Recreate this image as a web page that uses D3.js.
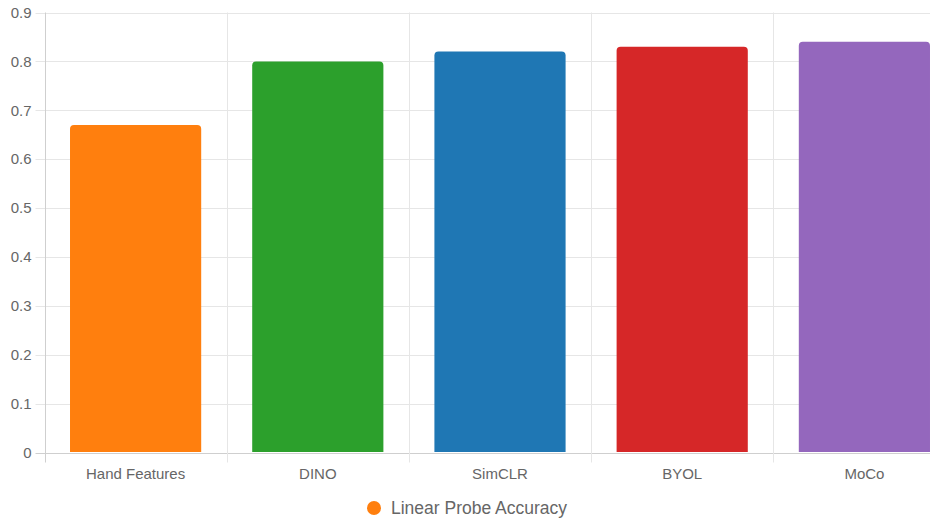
<!DOCTYPE html>
<html><head><meta charset="utf-8">
<script src="https://cdn.jsdelivr.net/npm/d3@7"></script>
<style>html,body{margin:0;padding:0;background:#fff;overflow:hidden}</style>
</head><body>
<svg id="c" width="930" height="526"></svg>
<script>
const categories = ["Hand Features", "DINO", "SimCLR", "BYOL", "MoCo"];
const values = [0.67, 0.80, 0.82, 0.83, 0.84];
const colors = ["#ff7f0e", "#2ca02c", "#1f77b4", "#d62728", "#9467bd"];
const yTicks = [0, 0.1, 0.2, 0.3, 0.4, 0.5, 0.6, 0.7, 0.8, 0.9];
const seriesName = "Linear Probe Accuracy";

(function () {
const svg = d3.select("#c");
const pLeft = 44.5, pRight = 955.5, pTop = 12.5, pBottom = 452.5;
const font = "'Liberation Sans', Arial, Helvetica, sans-serif";

const x = d3.scaleBand().domain(categories).range([pLeft, pRight]).paddingInner(0).paddingOuter(0);
const y = d3.scaleLinear().domain([0, 0.9]).range([pBottom, pTop]);

const g = svg.append("g");
g.selectAll("line.h").data(yTicks).join("line")
  .attr("x1", pLeft - 9).attr("x2", pRight)
  .attr("y1", d => Math.round(y(d)) + 0.5).attr("y2", d => Math.round(y(d)) + 0.5)
  .attr("stroke", d => d === 0 ? "#cfcfcf" : "#e6e6e6").attr("stroke-width", 1);
const bounds = categories.map(c => x(c)).concat([pRight]);
g.selectAll("line.v").data(bounds).join("line")
  .attr("x1", d => Math.round(d) + 0.5).attr("x2", d => Math.round(d) + 0.5)
  .attr("y1", pTop).attr("y2", pBottom + 10)
  .attr("stroke", (d, i) => i === 0 ? "#cfcfcf" : "#e6e6e6").attr("stroke-width", 1);

svg.append("g").selectAll("text").data(yTicks).join("text")
  .attr("x", pLeft - 13).attr("y", d => y(d)).attr("dy", "0.35em")
  .attr("text-anchor", "end").attr("font-family", font).attr("font-size", 15)
  .attr("fill", "#666").text(d => d === 0 ? "0" : d3.format(".1f")(d));

const bw = x.bandwidth() * 0.72;
const r = 4;
function barPath(x0, y0, w, h) {
  return `M${x0},${y0 + h} L${x0},${y0 + r} Q${x0},${y0} ${x0 + r},${y0} L${x0 + w - r},${y0} Q${x0 + w},${y0} ${x0 + w},${y0 + r} L${x0 + w},${y0 + h} Z`;
}
svg.append("g").selectAll("path").data(categories).join("path")
  .attr("d", (c, i) => {
    const cx = x(c) + x.bandwidth() / 2;
    const yv = y(values[i]);
    return barPath(cx - bw / 2, yv, bw, y(0) - yv - 0.5);
  })
  .attr("fill", (c, i) => colors[i]);

svg.append("g").selectAll("text").data(categories).join("text")
  .attr("x", c => x(c) + x.bandwidth() / 2).attr("y", 474).attr("dy", "0.35em")
  .attr("text-anchor", "middle").attr("font-family", font).attr("font-size", 15)
  .attr("fill", "#666").text(c => c);

const lg = svg.append("g");
lg.append("circle").attr("cx", 374).attr("cy", 508).attr("r", 7).attr("fill", colors[0]);
lg.append("text").attr("x", 391).attr("y", 508).attr("dy", "0.35em")
  .attr("font-family", font).attr("font-size", 17.5).attr("fill", "#666").text(seriesName);
})();
</script>
</body></html>
